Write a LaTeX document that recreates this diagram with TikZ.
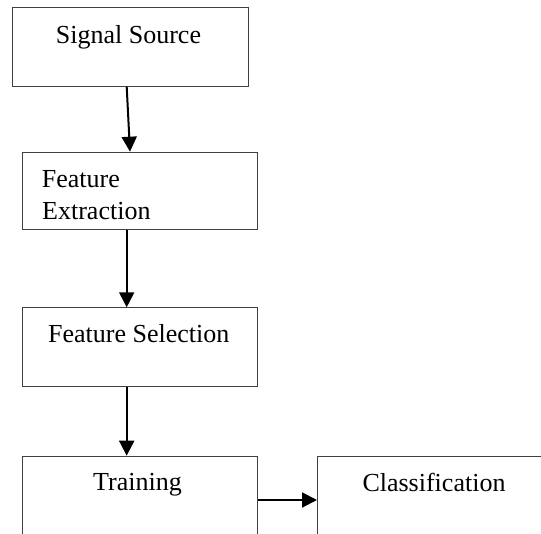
\documentclass[tikz,border=0pt]{standalone}
\usepackage{fontspec}
\setmainfont{Liberation Serif}
\usetikzlibrary{arrows.meta}
\begin{document}
\begin{tikzpicture}[x=1pt,y=-1pt,
  box/.style={draw=black!75, line width=1pt, rectangle, inner sep=0pt, anchor=north west},
  lbl/.style={inner sep=0pt, font=\fontsize{26}{32}\selectfont},
  arr/.style={line width=2pt, -{Triangle[length=15pt,width=15pt]}}]
\useasboundingbox (0,0) rectangle (541,533);
\clip (0,0) rectangle (541,533);
\fill[white] (0,0) rectangle (541,533);
% boxes
\node[box, minimum width=235.7pt, minimum height=78.4pt] (b1) at (12,7.3) {};
\node[box, minimum width=235pt, minimum height=77.6pt] (b2) at (22,151.7) {};
\node[box, minimum width=235pt, minimum height=78.4pt] (b3) at (22,307.3) {};
\node[box, minimum width=235pt, minimum height=120pt] (b4) at (22,455.7) {};
\node[box, minimum width=234pt, minimum height=120pt] (b5) at (317,455.7) {};
% labels
\node[lbl, anchor=base] (t1) at (128.5,43.3) {Signal Source};
\node[lbl, anchor=base west] (t2a) at (41.7,187) {Feature};
\node[lbl, anchor=base west] (t2b) at (42,219.3) {Extraction};
\node[lbl, anchor=base] (t3) at (138.8,342.7) {Feature Selection};
\node[lbl, anchor=base] (t4) at (137.5,490.7) {Training};
\node[lbl, anchor=base] (t5) at (434,491) {Classification};
% connectors
\draw[arr] ([xshift=114.7pt]b1.south west) -- ([xshift=108pt]b2.north west);
\draw[arr] ([xshift=104.7pt]b2.south west) -- ([xshift=104.7pt]b3.north west);
\draw[arr] ([xshift=104.7pt]b3.south west) -- ([xshift=104.7pt]b4.north west);
\draw[arr] ([yshift=-44.3pt]b4.north east) -- ([yshift=-44.3pt]b5.north west);
\end{tikzpicture}
\end{document}
